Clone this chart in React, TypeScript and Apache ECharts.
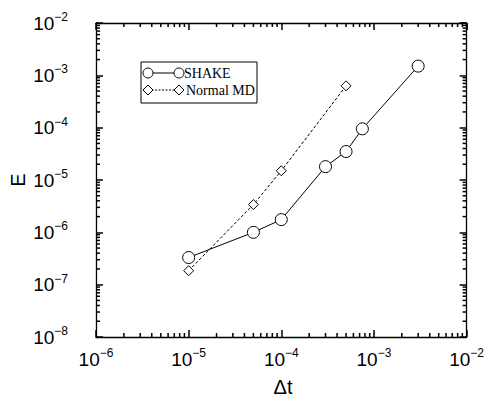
import React, { useEffect, useRef } from "react";
import * as echarts from "echarts";

const shakeDt = [1e-5, 5e-5, 1e-4, 3e-4, 5e-4, 7.5e-4, 3e-3];
const shakeE = [3.3e-7, 1.0e-6, 1.75e-6, 1.8e-5, 3.5e-5, 9.5e-5, 1.5e-3];
const normalDt = [1e-5, 5e-5, 1e-4, 5e-4];
const normalE = [1.85e-7, 3.4e-6, 1.5e-5, 6.3e-4];

const xRange = [1e-6, 1e-2];
const yRange = [1e-8, 1e-2];
const minorMultipliers = [2, 3, 4, 5, 6, 7, 8, 9];

function minorTicks(lo: number, hi: number): number[] {
  const out: number[] = [];
  const a = Math.round(Math.log10(lo));
  const b = Math.round(Math.log10(hi));
  for (let d = a; d < b; d++) {
    for (const m of minorMultipliers) out.push(m * Math.pow(10, d));
  }
  return out;
}

const FONT = "Liberation Sans";

function expLabel(v: number) {
  const e = Math.round(Math.log10(v));
  return `{b|10}{s|${e}}`.replace("{s|-", "{s|\u2212");
}

const rich = {
  b: { fontSize: 19, fontFamily: FONT, color: "#000" },
  s: { fontSize: 12, fontFamily: FONT, color: "#000", padding: [0, 0, 12, 0] },
};

export default function App() {
  const ref = useRef<HTMLDivElement>(null);
  useEffect(() => {
    if (!ref.current) return;
    const chart = echarts.init(ref.current, undefined, { renderer: "svg" });
    const axisCommon = {
      type: "log" as const,
      logBase: 10,
      axisLine: { show: true, lineStyle: { color: "#000", width: 1.3 } },
      axisTick: { show: true, inside: true, length: 7, lineStyle: { color: "#000", width: 1.5 } },
      splitLine: { show: false },
      minorTick: { show: false },
    };
    const staticGraphic: any[] = [
      {
        type: "rect",
        shape: { x: 141, y: 62, width: 116, height: 41 },
        style: { fill: "#fff", stroke: "#000", lineWidth: 1 },
      },
      { type: "line", shape: { x1: 148, y1: 73, x2: 179, y2: 73 }, style: { stroke: "#000", lineWidth: 1 } },
      { type: "circle", shape: { cx: 148, cy: 73, r: 5 }, style: { fill: "#fff", stroke: "#000", lineWidth: 1 } },
      { type: "circle", shape: { cx: 179, cy: 73, r: 5 }, style: { fill: "#fff", stroke: "#000", lineWidth: 1 } },
      {
        type: "text",
        x: 184,
        y: 73,
        style: { text: "SHAKE", fontSize: 14, fontFamily: "Liberation Serif", fill: "#000", verticalAlign: "middle" },
      },
      { type: "line", shape: { x1: 148, y1: 90, x2: 179, y2: 90 }, style: { stroke: "#000", lineWidth: 1, lineDash: [2, 1.5] } },
      { type: "polygon", shape: { points: [[143, 90], [148, 85], [153, 90], [148, 95]] }, style: { fill: "#fff", stroke: "#000", lineWidth: 1 } },
      { type: "polygon", shape: { points: [[174, 90], [179, 85], [184, 90], [179, 95]] }, style: { fill: "#fff", stroke: "#000", lineWidth: 1 } },
      {
        type: "text",
        x: 186,
        y: 90,
        style: { text: "Normal MD", fontSize: 14, fontFamily: "Liberation Serif", fill: "#000", verticalAlign: "middle" },
      },
      {
        type: "text",
        x: 18,
        y: 180,
        rotation: Math.PI / 2,
        style: { text: "E", fontSize: 20, fontFamily: FONT, fill: "#000", align: "center", verticalAlign: "middle" },
      },
      {
        type: "text",
        x: 283,
        y: 387,
        style: { text: "\u0394t", fontSize: 20, fontFamily: FONT, fill: "#000", align: "center", verticalAlign: "middle" },
      },
    ];
    chart.setOption({
      animation: false,
      backgroundColor: "#fff",
      grid: { left: 96, right: 14, top: 23, bottom: 61 },
      xAxis: [
        {
          ...axisCommon,
          min: xRange[0],
          max: xRange[1],
          position: "bottom",
          axisLabel: { formatter: expLabel, rich, margin: 10 },
        },
        {
          ...axisCommon,
          min: xRange[0],
          max: xRange[1],
          position: "top",
          axisLabel: { show: false },
        },
      ],
      yAxis: [
        {
          ...axisCommon,
          min: yRange[0],
          max: yRange[1],
          position: "left",
          axisLabel: { formatter: expLabel, rich, margin: 28 },
        },
        {
          ...axisCommon,
          min: yRange[0],
          max: yRange[1],
          position: "right",
          axisLabel: { show: false },
        },
      ],
      series: [
        {
          name: "Normal MD",
          type: "line",
          data: normalDt.map((x, i) => [x, normalE[i]]),
          symbol: "diamond",
          symbolSize: 10,
          lineStyle: { color: "#000", width: 1, type: [3, 2] },
          itemStyle: { color: "#fff", borderColor: "#000", borderWidth: 1 },
        },
        {
          name: "SHAKE",
          type: "line",
          data: shakeDt.map((x, i) => [x, shakeE[i]]),
          symbol: "circle",
          symbolSize: 12,
          lineStyle: { color: "#000", width: 1 },
          itemStyle: { color: "#fff", borderColor: "#000", borderWidth: 1 },
        },
      ],
      graphic: staticGraphic,
    });

    // minor ticks positioned through the axes' own scales
    const tickGraphic: any[] = [];
    try {
      const finder = { gridIndex: 0 };
      const stroke = { stroke: "#000", lineWidth: 1.5 };
      const len = 4;
      for (const v of minorTicks(xRange[0], xRange[1])) {
        const pb = chart.convertToPixel(finder, [v, yRange[0]]) as number[];
        const pt = chart.convertToPixel(finder, [v, yRange[1]]) as number[];
        tickGraphic.push({ type: "line", silent: true, z: 100, shape: { x1: pb[0], y1: pb[1], x2: pb[0], y2: pb[1] - len }, style: stroke });
        tickGraphic.push({ type: "line", silent: true, z: 100, shape: { x1: pt[0], y1: pt[1], x2: pt[0], y2: pt[1] + len }, style: stroke });
      }
      for (const v of minorTicks(yRange[0], yRange[1])) {
        const pl = chart.convertToPixel(finder, [xRange[0], v]) as number[];
        const pr = chart.convertToPixel(finder, [xRange[1], v]) as number[];
        tickGraphic.push({ type: "line", silent: true, z: 100, shape: { x1: pl[0], y1: pl[1], x2: pl[0] + len, y2: pl[1] }, style: stroke });
        tickGraphic.push({ type: "line", silent: true, z: 100, shape: { x1: pr[0], y1: pr[1], x2: pr[0] - len, y2: pr[1] }, style: stroke });
      }
    } catch (e) {
      // leave minor ticks out if conversion fails
    }
    chart.setOption({ graphic: [...tickGraphic, ...staticGraphic] }, { replaceMerge: ["graphic"] });
    return () => chart.dispose();
  }, []);
  return <div ref={ref} style={{ position: "fixed", left: 0, top: 0, width: 487, height: 398 }} />;
}
